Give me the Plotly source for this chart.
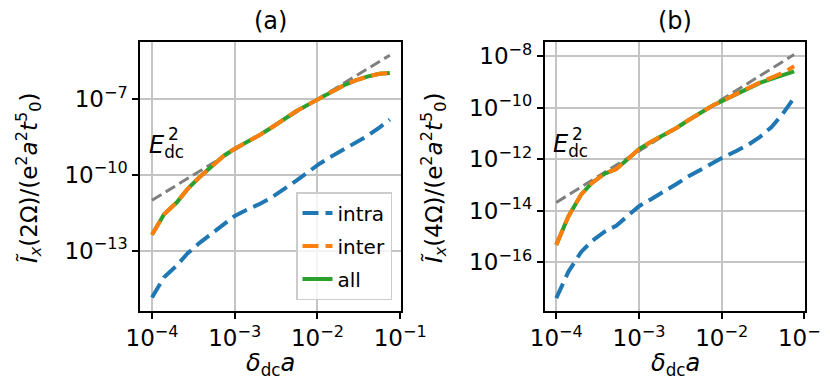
import plotly.graph_objects as go

# x values (delta_dc * a), shared by both panels
dca = [1.0e-4, 1.4e-4, 2.0e-4, 2.7e-4, 3.8e-4, 5.3e-4, 7.4e-4, 1.0e-3, 1.4e-3, 2.0e-3,
       2.8e-3, 3.9e-3, 5.4e-3, 7.6e-3, 1.06e-2, 1.5e-2, 2.1e-2, 2.9e-2, 4.0e-2, 5.6e-2, 7.5e-2]

# panel (a): 2 Omega
intra_a = [1.4e-15, 8.9e-15, 2.6e-14, 7.9e-14, 2.1e-13, 4.8e-13, 1.2e-12, 2.4e-12, 4.2e-12, 7.1e-12,
           1.3e-11, 2.6e-11, 5.6e-11, 1.26e-10, 2.8e-10, 5.6e-10, 1.05e-9, 1.9e-9, 3.5e-9, 7.6e-9, 1.55e-8]
inter_a = [4.3e-13, 2.8e-12, 8.3e-12, 2.8e-11, 8.5e-11, 2.2e-10, 5.8e-10, 1.1e-9, 2.0e-9, 3.8e-9,
           7.6e-9, 1.66e-8, 3.2e-8, 6.0e-8, 1.1e-7, 2.1e-7, 3.6e-7, 5.6e-7, 7.9e-7, 1.02e-6, 1.1e-6]
all_a = [4.3e-13, 2.8e-12, 8.3e-12, 2.8e-11, 8.5e-11, 2.2e-10, 5.8e-10, 1.1e-9, 2.0e-9, 3.8e-9,
         7.6e-9, 1.66e-8, 3.2e-8, 6.0e-8, 1.1e-7, 2.1e-7, 3.6e-7, 5.6e-7, 7.9e-7, 1.02e-6, 1.1e-6]

# panel (b): 4 Omega
intra_b = [4.0e-18, 4.2e-17, 2.5e-16, 6.6e-16, 1.5e-15, 2.6e-15, 6.5e-15, 1.5e-14, 2.8e-14, 5.4e-14,
           1.07e-13, 2.1e-13, 3.8e-13, 6.9e-13, 1.23e-12, 2.1e-12, 3.7e-12, 7.4e-12, 1.8e-11, 6.5e-11, 2.5e-10]
inter_b = [4.7e-16, 6.0e-15, 4.3e-14, 1.2e-13, 2.7e-13, 4.2e-13, 1.05e-12, 2.5e-12, 4.8e-12, 8.7e-12,
           1.6e-11, 3.2e-11, 6.3e-11, 1.17e-10, 2.0e-10, 3.5e-10, 5.9e-10, 9.8e-10, 1.5e-9, 2.4e-9, 4.1e-9]
all_b = [4.7e-16, 6.0e-15, 4.3e-14, 1.2e-13, 2.7e-13, 4.2e-13, 1.05e-12, 2.5e-12, 4.8e-12, 8.7e-12,
         1.6e-11, 3.2e-11, 6.3e-11, 1.17e-10, 2.0e-10, 3.5e-10, 5.9e-10, 9.3e-10, 1.35e-9, 1.9e-9, 2.6e-9]

# E_dc^2 guide lines (end points)
guide_x = [1.0e-4, 7.5e-2]
guide_a = [1.0e-11, 5.6e-6]
guide_b = [2.1e-14, 1.18e-8]

# tick labels
xtick_vals = [1e-4, 1e-3, 1e-2, 1e-1]
xtick_text = ["10<sup>−4</sup>", "10<sup>−3</sup>", "10<sup>−2</sup>", "10<sup>−1</sup>"]
ytick_vals_a = [1e-13, 1e-10, 1e-7]
ytick_text_a = ["10<sup>−13</sup>", "10<sup>−10</sup>", "10<sup>−7</sup>"]
ytick_vals_b = [1e-16, 1e-14, 1e-12, 1e-10, 1e-8]
ytick_text_b = ["10<sup>−16</sup>", "10<sup>−14</sup>", "10<sup>−12</sup>", "10<sup>−10</sup>", "10<sup>−8</sup>"]

BLUE, ORANGE, GREEN, GRAY = "#1f77b4", "#ff7f0e", "#2ca02c", "#7f7f7f"
FONT = "DejaVu Sans"
TICK = 23
W, H = 830, 380


def px(X):
    return X / W


def py(Y):
    return 1 - Y / H


fig = go.Figure()

panels = [("x", "y", intra_a, inter_a, all_a, guide_a, True),
          ("x2", "y2", intra_b, inter_b, all_b, guide_b, False)]
for xa, ya, intra, inter, tot, guide, leg in panels:
    fig.add_trace(go.Scatter(x=guide_x, y=guide, mode="lines", xaxis=xa, yaxis=ya,
                             line=dict(color=GRAY, width=3, dash="11px,5px"), showlegend=False))
    fig.add_trace(go.Scatter(x=dca, y=intra, mode="lines", name="intra", xaxis=xa, yaxis=ya,
                             line=dict(color=BLUE, width=4, dash="16px,7px"),
                             showlegend=leg, legendrank=1, legendgroup="g1"))
    fig.add_trace(go.Scatter(x=dca, y=tot, mode="lines", name="all", xaxis=xa, yaxis=ya,
                             line=dict(color=GREEN, width=4),
                             showlegend=leg, legendrank=3, legendgroup="g3"))
    fig.add_trace(go.Scatter(x=dca, y=inter, mode="lines", name="inter", xaxis=xa, yaxis=ya,
                             line=dict(color=ORANGE, width=4, dash="16px,7px"),
                             showlegend=leg, legendrank=2, legendgroup="g2"))

axis_common = dict(type="log", showline=True, mirror=True, linecolor="black", linewidth=1.5,
                   ticks="outside", ticklen=6, tickwidth=1.5, tickcolor="black",
                   showgrid=True, gridcolor="#c4c4c4", gridwidth=1.5, zeroline=False,
                   automargin=False,
                   tickfont=dict(size=TICK, color="black", family=FONT))

fig.update_layout(
    width=W, height=H,
    margin=dict(l=0, r=0, t=0, b=0),
    plot_bgcolor="white", paper_bgcolor="white",
    font=dict(family=FONT, color="black", size=TICK),
    xaxis=dict(axis_common, domain=[px(132), px(393)], range=[-4.145, -0.99],
               tickvals=xtick_vals, ticktext=xtick_text),
    yaxis=dict(axis_common, domain=[py(303), py(34)], range=[-15.39, -4.73],
               tickvals=ytick_vals_a, ticktext=ytick_text_a),
    xaxis2=dict(axis_common, domain=[px(536.7), px(797.3)], range=[-4.14, -0.99], anchor="y2",
                tickvals=xtick_vals, ticktext=xtick_text),
    yaxis2=dict(axis_common, domain=[py(303), py(34)], range=[-17.9, -7.44], anchor="x2",
                tickvals=ytick_vals_b, ticktext=ytick_text_b),
    legend=dict(x=px(384), xanchor="right", y=py(292), yanchor="bottom",
                bgcolor="rgba(255,255,255,0.8)", bordercolor="#cccccc", borderwidth=1.5,
                font=dict(size=20, family=FONT), tracegroupgap=4),
)

# panel titles and axis titles
ytitle = "<i>Ĩ</i><sub><i>x</i></sub>({}Ω)/(e<sup>2</sup><i>a</i><sup>2</sup><i>t</i><sup>5</sup><sub>0</sub>)"
xtitle = "<i>δ</i><sub>dc</sub><i>a</i>"
for xc, label, ytx, n in [(262.5, "(a)", 20, 2), (667, "(b)", 425, 4)]:
    fig.add_annotation(x=px(xc), y=py(13), xref="paper", yref="paper", text=label,
                       showarrow=False, font=dict(size=24), xanchor="center", yanchor="middle")
    fig.add_annotation(x=px(xc), y=py(356), xref="paper", yref="paper", text=xtitle,
                       showarrow=False, font=dict(size=24), xanchor="center", yanchor="middle")
    fig.add_annotation(x=px(ytx), y=py(170), xref="paper", yref="paper",
                       text=ytitle.format(n), textangle=-90,
                       showarrow=False, font=dict(size=23), xanchor="center", yanchor="middle")

# E_dc^2 labels
for xr, yr, ly in [("x", "y", -8.87), ("x2", "y2", -11.48)]:
    fig.add_annotation(x=-4, y=ly, xref=xr, yref=yr,
                       text="<i>E</i><sub>dc</sub>", showarrow=False,
                       font=dict(size=24), xanchor="left", yanchor="middle", xshift=-5)
    fig.add_annotation(x=-4, y=ly, xref=xr, yref=yr,
                       text="2", showarrow=False,
                       font=dict(size=17), xanchor="left", yanchor="middle", xshift=14, yshift=12)

fig.write_html("out.html")
